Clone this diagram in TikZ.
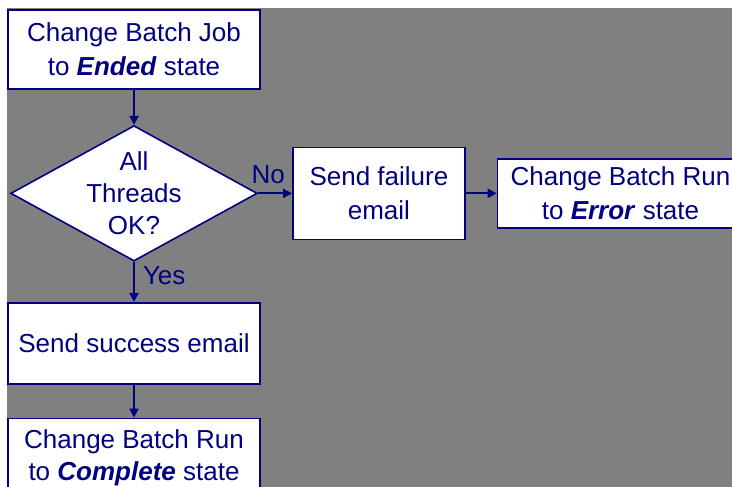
\documentclass[tikz,border=0pt]{standalone}
\usepackage{fontspec}
\setmainfont{Liberation Sans}
\usetikzlibrary{arrows.meta,positioning,shapes.geometric}
\definecolor{navy}{HTML}{000080}
\definecolor{bggray}{HTML}{808080}

\begin{document}
\begin{tikzpicture}[
  x=1pt, y=-1pt,
  box/.style={draw=navy, fill=white, line width=1.6pt,
              font=\fontsize{26}{34}\selectfont, text=navy, align=center,
              minimum width=252pt, minimum height=79pt, inner sep=1pt},
  test/.style={diamond, draw=navy, fill=white, line width=1.6pt,
               font=\fontsize{26}{32}\selectfont, text=navy, align=center,
               minimum width=244pt, minimum height=132pt, aspect=1.82, inner sep=0pt},
  arr/.style={-{Triangle[length=9pt,width=9pt]}, navy, line width=2pt},
  lbl/.style={font=\fontsize{26}{26}\selectfont, text=navy, inner sep=1pt},
]

\useasboundingbox (0,0) rectangle (732,487);
\fill[bggray] (7,8) rectangle (732,487);

\node[box] (endjob) at (134,49.5) {Change Batch Job\\to \textbf{\textit{Ended}} state};
\node[test, below=35pt of endjob] (threads) {All\\Threads\\OK?};
\node[box, minimum width=172pt, minimum height=92pt, right=34pt of threads] (fail) {Send failure\\email};
\node[box, minimum width=246pt, minimum height=69pt, right=31pt of fail] (error) {Change Batch Run\\to \textbf{\textit{Error}} state};
\node[box, minimum height=81pt, below=40pt of threads] (success) {Send success email};
\node[box, font=\fontsize{26}{32}\selectfont, below=33pt of success] (complete) {Change Batch Run\\to \textbf{\textit{Complete}} state};

% Flow arrows
\draw[arr] (endjob)--(threads);
\draw[arr] (threads.east)--node[lbl, above=8pt, pos=0.3]{No} (fail.west);
\draw[arr] (fail)--(error);
\draw[arr] (threads.south)--node[lbl, right=7pt, pos=0.35]{Yes} (success.north);
\draw[arr] (success)--(complete);

\end{tikzpicture}
\end{document}
